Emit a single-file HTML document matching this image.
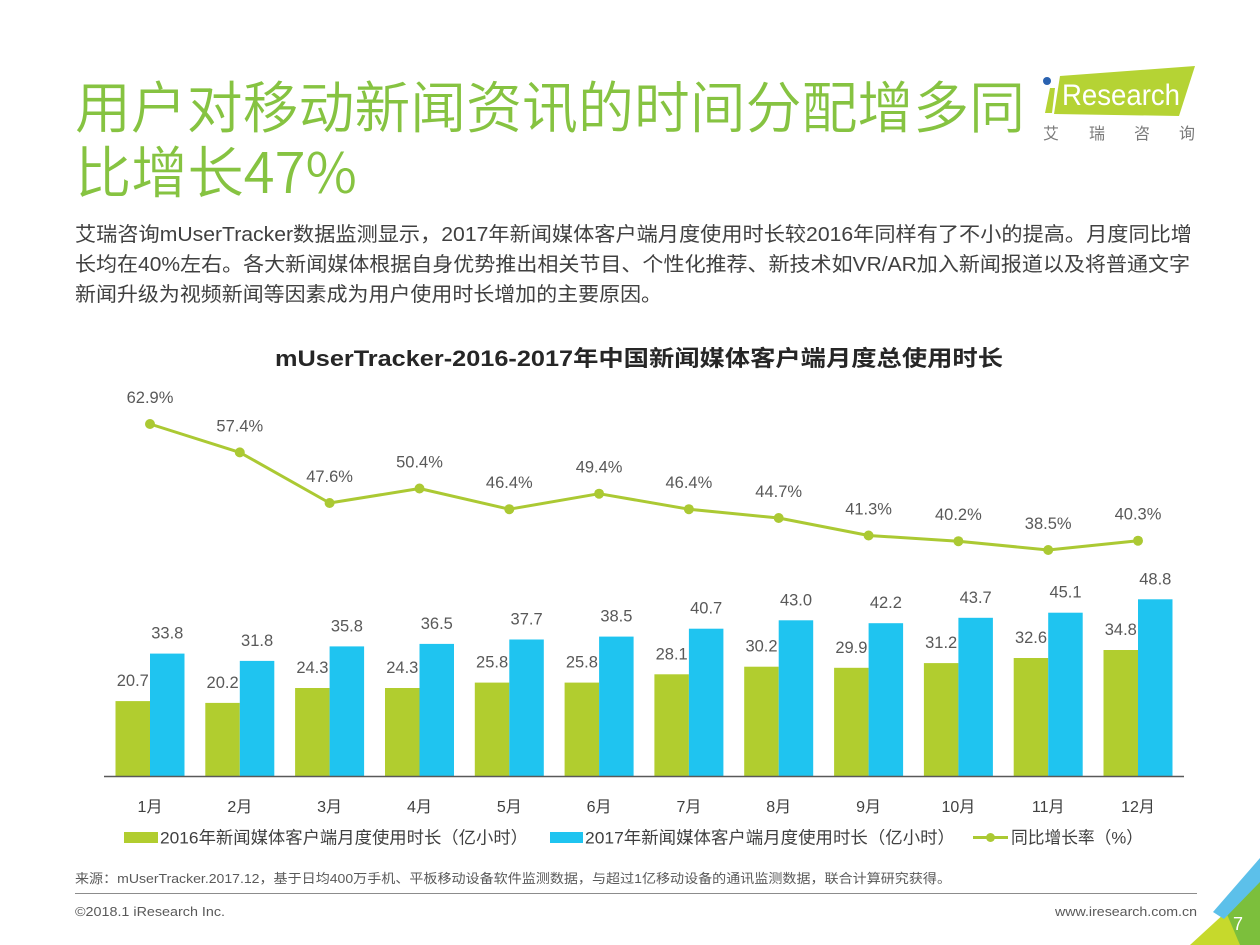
<!DOCTYPE html>
<html>
<head>
<meta charset="utf-8">
<style>
html,body{margin:0;padding:0;background:#fff;}
svg{display:block;}
text{font-family:"Liberation Sans","Noto Sans CJK SC",sans-serif;}
</style>
</head>
<body>
<svg width="1260" height="945" viewBox="0 0 1260 945" xmlns="http://www.w3.org/2000/svg">
<rect width="1260" height="945" fill="#fff"/>

<!-- Title -->
<text x="75" y="128" font-size="56" font-weight="350" fill="#86c341" textLength="950" lengthAdjust="spacingAndGlyphs">用户对移动新闻资讯的时间分配增多同</text>
<text x="75" y="193" font-size="56" font-weight="350" fill="#86c341" textLength="282" lengthAdjust="spacingAndGlyphs" style="font-family:'Noto Sans CJK SC','Liberation Sans',sans-serif;">比增长47%</text>

<!-- Logo -->
<polygon points="1045,113 1050,88 1055,88 1052,113" fill="#b5d334"/>
<polygon points="1054,114 1060,76 1195,66 1179,116" fill="#b5d334"/>
<circle cx="1047" cy="81" r="4" fill="#2a62b0"/>
<text x="1062" y="105" font-size="30" fill="#fff" textLength="118" lengthAdjust="spacingAndGlyphs">Research</text>
<text x="1043" y="139" font-size="16" fill="#7a7a7a">艾</text>
<text x="1089" y="139" font-size="16" fill="#7a7a7a">瑞</text>
<text x="1134" y="139" font-size="16" fill="#7a7a7a">咨</text>
<text x="1179" y="139" font-size="16" fill="#7a7a7a">询</text>

<!-- Body paragraph -->
<text x="75" y="241" font-size="20" fill="#404040" textLength="1117" lengthAdjust="spacingAndGlyphs">艾瑞咨询mUserTracker数据监测显示，2017年新闻媒体客户端月度使用时长较2016年同样有了不小的提高。月度同比增</text>
<text x="75" y="271" font-size="20" fill="#404040" textLength="1115" lengthAdjust="spacingAndGlyphs">长均在40%左右。各大新闻媒体根据自身优势推出相关节目、个性化推荐、新技术如VR/AR加入新闻报道以及将普通文字</text>
<text x="75" y="301" font-size="20" fill="#404040" textLength="587" lengthAdjust="spacingAndGlyphs">新闻升级为视频新闻等因素成为用户使用时长增加的主要原因。</text>

<!-- Chart title -->
<text x="275" y="366" font-size="22" font-weight="bold" fill="#262626" textLength="728" lengthAdjust="spacingAndGlyphs">mUserTracker-2016-2017年中国新闻媒体客户端月度总使用时长</text>

<!-- Bars 2016 -->
<g fill="#b1cd2f">
<rect x="115.5" y="701.1" width="34.5" height="74.9"/>
<rect x="205.3" y="702.9" width="34.5" height="73.1"/>
<rect x="295.1" y="688.0" width="34.5" height="88.0"/>
<rect x="385.0" y="688.0" width="34.5" height="88.0"/>
<rect x="474.8" y="682.6" width="34.5" height="93.4"/>
<rect x="564.6" y="682.6" width="34.5" height="93.4"/>
<rect x="654.4" y="674.3" width="34.5" height="101.7"/>
<rect x="744.2" y="666.7" width="34.5" height="109.3"/>
<rect x="834.1" y="667.8" width="34.5" height="108.2"/>
<rect x="923.9" y="663.1" width="34.5" height="112.9"/>
<rect x="1013.7" y="658.0" width="34.5" height="118.0"/>
<rect x="1103.5" y="650.0" width="34.5" height="126.0"/>
</g>
<!-- Bars 2017 -->
<g fill="#1fc4f0">
<rect x="150.0" y="653.6" width="34.5" height="122.4"/>
<rect x="239.8" y="660.9" width="34.5" height="115.1"/>
<rect x="329.6" y="646.4" width="34.5" height="129.6"/>
<rect x="419.5" y="643.9" width="34.5" height="132.1"/>
<rect x="509.3" y="639.5" width="34.5" height="136.5"/>
<rect x="599.1" y="636.6" width="34.5" height="139.4"/>
<rect x="688.9" y="628.7" width="34.5" height="147.3"/>
<rect x="778.7" y="620.3" width="34.5" height="155.7"/>
<rect x="868.6" y="623.2" width="34.5" height="152.8"/>
<rect x="958.4" y="617.8" width="34.5" height="158.2"/>
<rect x="1048.2" y="612.7" width="34.5" height="163.3"/>
<rect x="1138.0" y="599.3" width="34.5" height="176.7"/>
</g>

<!-- Bar labels -->
<g font-size="16.5" fill="#595959" text-anchor="middle">
<text x="132.8" y="686.1">20.7</text>
<text x="222.6" y="687.9">20.2</text>
<text x="312.4" y="673.0">24.3</text>
<text x="402.3" y="673.0">24.3</text>
<text x="492.1" y="667.6">25.8</text>
<text x="581.9" y="667.6">25.8</text>
<text x="671.7" y="659.3">28.1</text>
<text x="761.5" y="651.7">30.2</text>
<text x="851.4" y="652.8">29.9</text>
<text x="941.2" y="648.1">31.2</text>
<text x="1031.0" y="643.0">32.6</text>
<text x="1120.8" y="635.0">34.8</text>

<text x="167.3" y="638.6">33.8</text>
<text x="257.1" y="645.9">31.8</text>
<text x="346.9" y="631.4">35.8</text>
<text x="436.8" y="628.9">36.5</text>
<text x="526.6" y="624.5">37.7</text>
<text x="616.4" y="621.6">38.5</text>
<text x="706.2" y="613.7">40.7</text>
<text x="796.0" y="605.3">43.0</text>
<text x="885.9" y="608.2">42.2</text>
<text x="975.7" y="602.8">43.7</text>
<text x="1065.5" y="597.7">45.1</text>
<text x="1155.3" y="584.3">48.8</text>
</g>

<!-- Axis -->
<line x1="104" y1="776.5" x2="1184" y2="776.5" stroke="#595959" stroke-width="1.5"/>

<!-- Month labels -->
<g font-size="16" fill="#404040" text-anchor="middle">
<text x="150.0" y="812">1月</text>
<text x="239.8" y="812">2月</text>
<text x="329.6" y="812">3月</text>
<text x="419.5" y="812">4月</text>
<text x="509.3" y="812">5月</text>
<text x="599.1" y="812">6月</text>
<text x="688.9" y="812">7月</text>
<text x="778.7" y="812">8月</text>
<text x="868.6" y="812">9月</text>
<text x="958.4" y="812">10月</text>
<text x="1048.2" y="812">11月</text>
<text x="1138.0" y="812">12月</text>
</g>

<!-- Line -->
<polyline fill="none" stroke="#abc933" stroke-width="3" stroke-linejoin="round"
 points="150.0,424.0 239.8,452.4 329.6,503.0 419.5,488.5 509.3,509.2 599.1,493.7 688.9,509.2 778.7,518.0 868.6,535.5 958.4,541.2 1048.2,550.0 1138.0,540.7"/>
<g fill="#abc933">
<circle cx="150.0" cy="424.0" r="5"/>
<circle cx="239.8" cy="452.4" r="5"/>
<circle cx="329.6" cy="503.0" r="5"/>
<circle cx="419.5" cy="488.5" r="5"/>
<circle cx="509.3" cy="509.2" r="5"/>
<circle cx="599.1" cy="493.7" r="5"/>
<circle cx="688.9" cy="509.2" r="5"/>
<circle cx="778.7" cy="518.0" r="5"/>
<circle cx="868.6" cy="535.5" r="5"/>
<circle cx="958.4" cy="541.2" r="5"/>
<circle cx="1048.2" cy="550.0" r="5"/>
<circle cx="1138.0" cy="540.7" r="5"/>
</g>
<g font-size="16.5" fill="#595959" text-anchor="middle">
<text x="150.0" y="403.0">62.9%</text>
<text x="239.8" y="431.4">57.4%</text>
<text x="329.6" y="482.0">47.6%</text>
<text x="419.5" y="467.5">50.4%</text>
<text x="509.3" y="488.2">46.4%</text>
<text x="599.1" y="472.7">49.4%</text>
<text x="688.9" y="488.2">46.4%</text>
<text x="778.7" y="497.0">44.7%</text>
<text x="868.6" y="514.5">41.3%</text>
<text x="958.4" y="520.2">40.2%</text>
<text x="1048.2" y="529.0">38.5%</text>
<text x="1138.0" y="519.7">40.3%</text>
</g>

<!-- Legend -->
<rect x="124" y="832" width="34" height="11" fill="#b1cd2f"/>
<text x="160" y="843.5" font-size="17" fill="#404040" textLength="368" lengthAdjust="spacingAndGlyphs">2016年新闻媒体客户端月度使用时长（亿小时）</text>
<rect x="550" y="832" width="33" height="11" fill="#1fc4f0"/>
<text x="585" y="843.5" font-size="17" fill="#404040" textLength="370" lengthAdjust="spacingAndGlyphs">2017年新闻媒体客户端月度使用时长（亿小时）</text>
<line x1="973" y1="837.5" x2="1008" y2="837.5" stroke="#abc933" stroke-width="3"/>
<circle cx="990.5" cy="837.5" r="4.5" fill="#abc933"/>
<text x="1011" y="843.5" font-size="17" fill="#404040" textLength="132" lengthAdjust="spacingAndGlyphs">同比增长率（%）</text>

<!-- Footer -->
<text x="75" y="883" font-size="13" fill="#595959" textLength="876" lengthAdjust="spacingAndGlyphs">来源：mUserTracker.2017.12，基于日均400万手机、平板移动设备软件监测数据，与超过1亿移动设备的通讯监测数据，联合计算研究获得。</text>
<line x1="75" y1="893.5" x2="1197" y2="893.5" stroke="#8c8c8c" stroke-width="1"/>
<text x="75" y="916" font-size="13" fill="#595959" textLength="150" lengthAdjust="spacingAndGlyphs">©2018.1 iResearch Inc.</text>
<text x="1197" y="916" font-size="13" fill="#595959" text-anchor="end" textLength="142" lengthAdjust="spacingAndGlyphs">www.iresearch.com.cn</text>

<!-- Corner decoration -->
<polygon points="1260,872 1260,945 1200,945 1222,916" fill="#7cbf3c"/>
<polygon points="1190,945 1226,912 1240,945" fill="#c6d92c"/>
<polygon points="1213,912 1260,858 1260,882 1224,919" fill="#5cc0ea"/>
<text x="1233" y="930" font-size="18" fill="#fff">7</text>
</svg>
</body>
</html>
